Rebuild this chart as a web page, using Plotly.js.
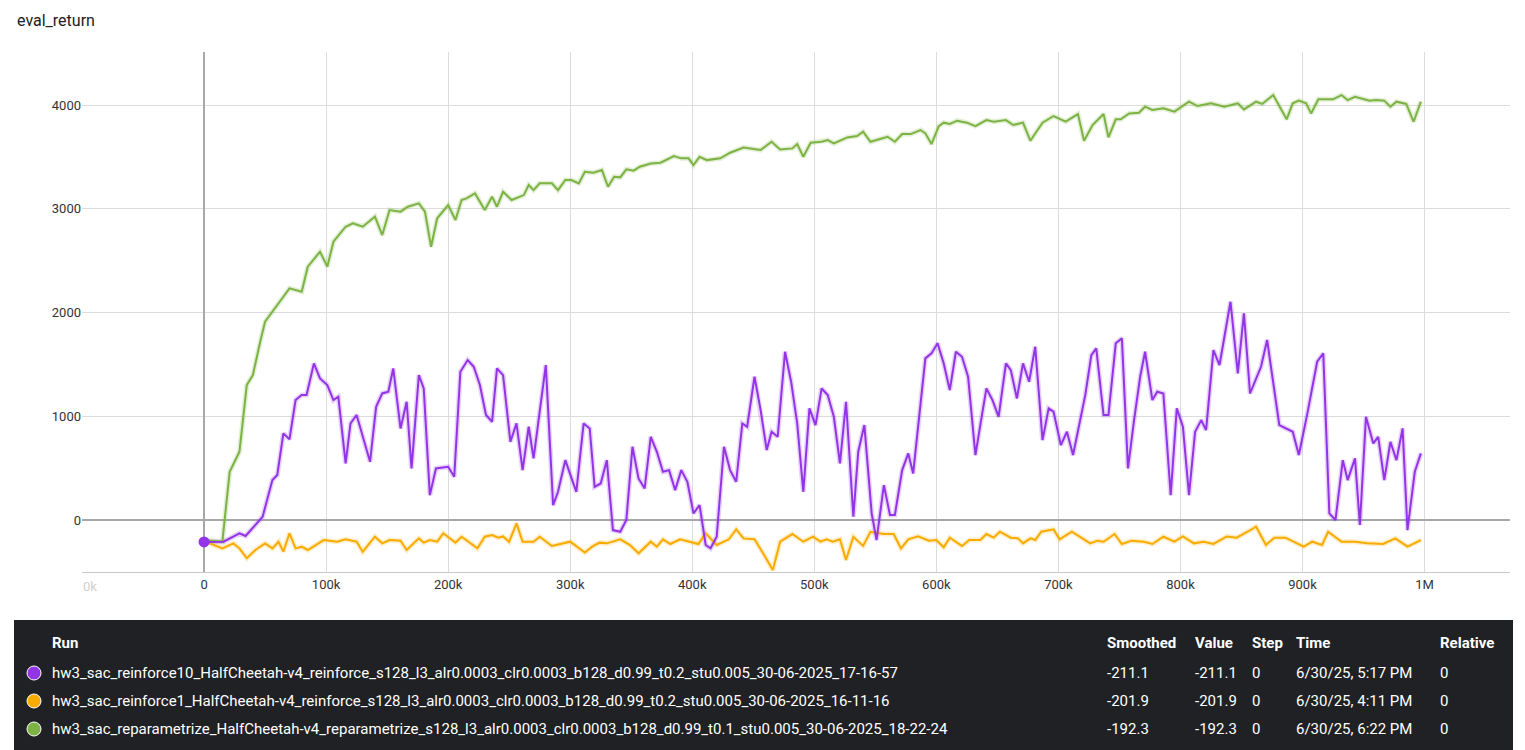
<!DOCTYPE html>
<html>
<head>
<meta charset="utf-8">
<script src="https://cdn.plot.ly/plotly-3.0.1.min.js"></script>
<style>body{margin:0;background:#fff;} #chart{width:1525px;height:750px;}</style>
</head>
<body>
<div id="chart"></div>
<script>
// eval_return, step in thousands
var purpleSteps = [0,16,29,34,48,56,60,65,70,75,80,84,90,95,101,106,110,116,120,125,136,141,146,151,155,161,166,170,176,180,185,190,200,205,210,216,221,226,231,236,240,245,251,256,261,266,270,280,286,290,296,305,311,316,320,325,330,335,341,346,351,356,361,366,371,376,381,386,391,396,401,406,411,415,420,426,431,436,441,445,451,456,461,465,470,476,481,486,491,496,501,506,511,516,521,526,532,536,541,547,551,557,562,566,572,577,581,591,596,601,606,611,616,621,626,632,636,641,646,651,657,661,666,671,676,681,687,692,696,702,707,712,722,727,731,737,741,747,752,757,762,767,771,777,781,786,792,797,802,807,812,817,821,827,832,841,847,852,857,866,871,881,892,897,904,912,917,922,927,933,937,943,947,952,958,962,967,972,977,982,986,992,997];
var purpleVals = [-211,-209,-128,-154,32,385,434,835,778,1156,1204,1204,1509,1365,1301,1156,1188,545,931,1012,561,1091,1220,1237,1461,883,1140,497,1397,1268,240,497,513,417,1429,1542,1477,1301,1012,947,1461,1397,754,931,481,899,594,1494,144,272,577,272,931,883,320,352,577,-97,-113,0,706,401,304,802,658,465,481,288,481,369,64,144,-241,-273,-161,706,481,369,931,899,1381,1060,674,851,802,1622,1333,931,272,1076,915,1268,1204,995,545,1140,32,658,915,64,-193,336,48,48,481,642,449,1558,1606,1703,1510,1252,1622,1574,1381,626,915,1268,1156,995,1510,1445,1172,1510,1333,1670,770,1076,1044,722,851,626,1204,1590,1654,1012,1012,1703,1751,497,963,1381,1622,1156,1237,1220,240,1076,899,240,851,963,867,1638,1494,2104,1413,1992,1220,1477,1735,915,851,626,1028,1526,1606,64,0,577,385,594,-48,995,738,802,385,754,577,883,-97,465,642];

var orangeSteps = [0,15,24,29,35,42,50,56,61,65,70,75,80,85,98,109,116,125,130,140,146,152,161,166,176,180,185,191,196,206,211,224,230,236,241,245,250,256,261,270,275,285,300,312,318,324,330,341,349,356,366,371,376,382,390,405,411,420,430,436,442,451,458,466,472,482,491,499,505,510,515,521,526,532,540,546,557,565,571,577,585,594,600,606,611,621,627,636,641,647,652,661,667,671,677,681,686,696,701,711,726,732,737,746,752,760,770,777,786,795,802,811,819,827,838,846,855,862,870,877,886,901,908,916,921,932,943,953,966,976,986,997];
var orangeVals = [-202,-273,-225,-273,-369,-289,-225,-273,-209,-305,-128,-273,-257,-289,-193,-209,-186,-209,-305,-161,-225,-193,-199,-289,-177,-218,-193,-209,-128,-218,-161,-273,-161,-145,-170,-158,-209,-32,-209,-209,-161,-250,-209,-314,-257,-218,-225,-186,-241,-321,-209,-257,-186,-231,-186,-231,-128,-241,-186,-90,-177,-186,-321,-482,-209,-135,-209,-161,-209,-186,-209,-186,-386,-161,-250,-113,-135,-135,-273,-186,-158,-199,-193,-263,-170,-250,-193,-193,-135,-170,-113,-170,-177,-225,-177,-193,-113,-90,-186,-113,-225,-199,-209,-135,-231,-199,-209,-231,-161,-209,-158,-225,-209,-231,-158,-170,-113,-64,-241,-170,-170,-257,-209,-241,-113,-209,-209,-225,-231,-177,-257,-193];

var greenSteps = [0,15,21,29,35,40,46,50,57,70,80,85,95,101,106,116,122,130,140,146,152,161,167,176,181,186,191,200,206,211,215,222,230,236,240,245,252,262,266,270,275,285,290,296,301,307,312,319,326,331,336,341,346,352,357,366,374,385,391,397,401,406,412,423,431,442,456,465,472,482,486,491,497,506,511,516,527,535,540,546,560,566,572,579,587,591,596,602,606,611,617,625,632,641,647,657,663,671,677,687,696,706,716,721,728,737,741,747,751,758,766,771,777,786,795,807,814,825,836,847,852,862,867,876,882,887,892,897,903,907,913,925,932,937,943,955,960,967,972,977,985,991,997];
var greenVals = [-192,-209,465,658,1301,1397,1718,1911,2024,2233,2201,2442,2586,2442,2683,2827,2860,2827,2924,2747,2988,2972,3020,3052,2972,2634,2908,3036,2892,3084,3100,3148,2988,3116,3020,3164,3084,3132,3229,3180,3245,3245,3180,3277,3277,3245,3357,3347,3373,3212,3309,3303,3380,3367,3405,3437,3444,3508,3486,3486,3421,3501,3469,3486,3540,3591,3566,3646,3572,3582,3624,3501,3636,3646,3662,3630,3688,3701,3743,3646,3694,3646,3720,3720,3759,3727,3624,3797,3830,3817,3849,3830,3797,3855,3839,3855,3807,3830,3656,3830,3894,3839,3913,3656,3807,3913,3688,3862,3862,3919,3926,3984,3952,3968,3936,4032,3990,4016,3984,4016,3958,4032,4010,4096,3968,3862,4016,4042,4016,3919,4055,4055,4096,4048,4080,4042,4048,4042,3984,4032,4010,3839,4032];

var runNames = [
  'hw3_sac_reinforce10_HalfCheetah-v4_reinforce_s128_l3_alr0.0003_clr0.0003_b128_d0.99_t0.2_stu0.005_30-06-2025_17-16-57',
  'hw3_sac_reinforce1_HalfCheetah-v4_reinforce_s128_l3_alr0.0003_clr0.0003_b128_d0.99_t0.2_stu0.005_30-06-2025_16-11-16',
  'hw3_sac_reparametrize_HalfCheetah-v4_reparametrize_s128_l3_alr0.0003_clr0.0003_b128_d0.99_t0.1_stu0.005_30-06-2025_18-22-24'
];
var smoothedCol = ['-211.1', '-201.9', '-192.3'];
var valueCol = ['-211.1', '-201.9', '-192.3'];
var stepCol = ['0', '0', '0'];
var timeCol = ['6/30/25, 5:17 PM', '6/30/25, 4:11 PM', '6/30/25, 6:22 PM'];
var relCol = ['0', '0', '0'];
var xTickVals = [0, 100, 200, 300, 400, 500, 600, 700, 800, 900, 1000];
var xTickText = ['0', '100k', '200k', '300k', '400k', '500k', '600k', '700k', '800k', '900k', '1M'];

var colors = ['#9334e6', '#f9ab00', '#7cb342'];
var halos = ['rgba(147,52,230,0.22)', 'rgba(249,171,0,0.22)', 'rgba(124,179,66,0.22)'];
var series = [[purpleSteps, purpleVals], [orangeSteps, orangeVals], [greenSteps, greenVals]];

var traces = [];
// draw order: green, orange, purple on top
[2, 1, 0].forEach(function(i){
  traces.push({x: series[i][0], y: series[i][1], type: 'scatter', mode: 'lines',
    line: {color: halos[i], width: 5}, hoverinfo: 'skip', showlegend: false});
});
[2, 1, 0].forEach(function(i){
  traces.push({x: series[i][0], y: series[i][1], type: 'scatter', mode: 'lines',
    line: {color: colors[i], width: 2}, showlegend: false});
});
traces.push({x: [0], y: [purpleVals[0]], type: 'scatter', mode: 'markers',
  marker: {color: colors[0], size: 11}, showlegend: false});

function px2x(p){ return (p - 82) / 1428; }
function py2y(p){ return (572 - p) / 520; }

var shapes = [{type: 'rect', xref: 'paper', yref: 'paper', x0: px2x(14), x1: px2x(1513), y0: py2y(752), y1: py2y(620),
  fillcolor: '#202124', line: {width: 0}, layer: 'above'}];
var annotations = [
  {xref: 'paper', yref: 'paper', x: px2x(15), y: py2y(20), xanchor: 'left', yanchor: 'middle',
    text: 'eval_return', showarrow: false, font: {size: 16, color: '#212121'}},
  {xref: 'paper', yref: 'paper', x: px2x(90), y: py2y(586), xanchor: 'center', yanchor: 'middle',
    text: '0k', showarrow: false, font: {size: 13, color: '#d0d0d0'}}
];

var white = {color: '#ffffff', size: 15};
var hdr = [['Run', 50], ['Smoothed', 1105], ['Value', 1193], ['Step', 1250], ['Time', 1294], ['Relative', 1438]];
hdr.forEach(function(h){
  annotations.push({xref: 'paper', yref: 'paper', x: px2x(h[1]), y: py2y(643), xanchor: 'left', yanchor: 'middle',
    text: '<b>' + h[0] + '</b>', showarrow: false, font: white});
});
var rowY = [673, 701, 729];
for (var r = 0; r < 3; r++) {
  var cells = [[runNames[r], 50], [smoothedCol[r], 1105], [valueCol[r], 1193], [stepCol[r], 1250], [timeCol[r], 1294], [relCol[r], 1438]];
  cells.forEach(function(c){
    annotations.push({xref: 'paper', yref: 'paper', x: px2x(c[1]), y: py2y(rowY[r]), xanchor: 'left', yanchor: 'middle',
      text: c[0], showarrow: false, font: white});
  });
  shapes.push({type: 'circle', xref: 'paper', yref: 'paper', layer: 'above',
    x0: px2x(27), x1: px2x(41), y0: py2y(rowY[r] + 7), y1: py2y(rowY[r] - 7),
    fillcolor: colors[r], line: {color: '#ffffff', width: 1}});
}

var layout = {
  width: 1525, height: 750,
  margin: {l: 82, r: 15, t: 52, b: 178},
  paper_bgcolor: '#ffffff', plot_bgcolor: '#ffffff',
  font: {family: 'Roboto, sans-serif', size: 13, color: '#212121'},
  xaxis: {range: [-100, 1070], tickvals: xTickVals, ticktext: xTickText, showgrid: true, gridcolor: '#dcdcdc',
    zeroline: true, zerolinecolor: '#a8a8a8', zerolinewidth: 2, showline: true, linecolor: '#c8c8c8',
    ticks: '', tickfont: {size: 13, color: '#333'}},
  yaxis: {range: [-501, 4511], tickvals: [0, 1000, 2000, 3000, 4000], showgrid: true, gridcolor: '#dcdcdc',
    zeroline: true, zerolinecolor: '#a8a8a8', zerolinewidth: 2, ticks: '', tickfont: {size: 13, color: '#333'}},
  shapes: shapes,
  annotations: annotations,
  hovermode: false
};
Plotly.newPlot('chart', traces, layout, {displayModeBar: false});
</script>
</body>
</html>
